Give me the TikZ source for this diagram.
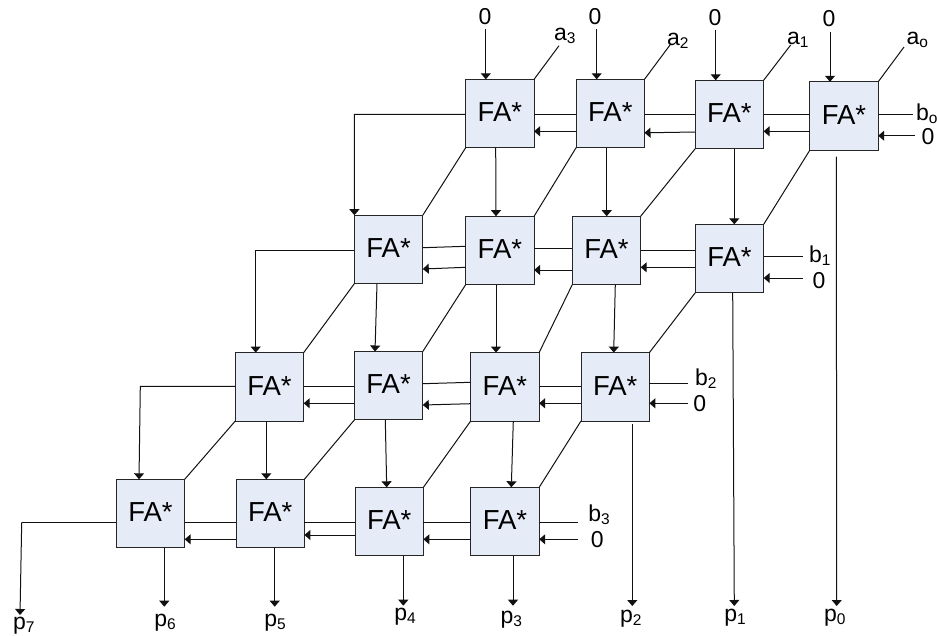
\documentclass[tikz,border=0pt]{standalone}
\usepackage{fontspec}
\setmainfont{Liberation Sans}
\usetikzlibrary{arrows.meta}
\definecolor{boxfill}{HTML}{E6ECF7}
\definecolor{boxline}{HTML}{262626}
\definecolor{wire}{HTML}{111111}
\newcommand{\lab}[2]{{\fontsize{23}{23}\selectfont #1}{\fontsize{15.5}{15.5}\selectfont\raisebox{-3pt}{#2}}}
\tikzset{
  fabox/.style={draw=boxline,fill=boxfill,line width=1pt,minimum size=68.4pt,inner sep=0pt,outer sep=0pt,
    font=\fontsize{27.5}{27.5}\selectfont,text height=20pt,text depth=3.6pt},
  lbl/.style={anchor=base west,inner sep=0pt,outer sep=0pt},
  zero/.style={inner sep=0pt,outer sep=0pt,font=\fontsize{23}{23}\selectfont},
  wireline/.style={draw=wire,line width=1pt},
  arr/.style={wireline,-{Triangle[length=6pt,width=10pt]}},
}
\newcommand{\pairw}[6]{% left box, right box, upper y at left, upper y at right, lower y at left, lower y at right
  \draw[wireline] (#1.east |- 0,#3) -- (#2.west |- 0,#4);
  \draw[arr] (#2.west |- 0,#6) -- (#1.east |- 0,#5);
}
\begin{document}
\begin{tikzpicture}[x=1pt,y=-1pt]
\useasboundingbox (0,0) rectangle (937,635);
% boxes
\node[fabox] (r0c3) at (499.9,113.5) {FA*};
\node[fabox] (r0c2) at (610.3,113.5) {FA*};
\node[fabox] (r0c1) at (729.4,114.5) {FA*};
\node[fabox] (r0c0) at (844,116) {FA*};
\node[fabox] (r1c3) at (388.6,249.4) {FA*};
\node[fabox] (r1c2) at (499.9,250.4) {FA*};
\node[fabox] (r1c1) at (606.5,250.4) {FA*};
\node[fabox] (r1c0) at (729.5,258.5) {FA*};
\node[fabox] (r2c3) at (269.5,386.8) {FA*};
\node[fabox] (r2c2) at (388.6,385.7) {FA*};
\node[fabox] (r2c1) at (504.9,386.8) {FA*};
\node[fabox] (r2c0) at (615.2,386.8) {FA*};
\node[fabox] (r3c3) at (150.5,513.5) {FA*};
\node[fabox] (r3c2) at (270.2,513.5) {FA*};
\node[fabox] (r3c1) at (389.2,521.5) {FA*};
\node[fabox] (r3c0) at (505,521.5) {FA*};
% top labels
\node[zero] (zt3) at (485,17) {0};
\node[zero] (zt2) at (595,17) {0};
\node[zero] (zt1) at (715,18) {0};
\node[zero] (zt0) at (829,19) {0};
\node[lbl] (a3) at (554,40) {\lab{a}{3}};
\node[lbl] (a2) at (667,45) {\lab{a}{2}};
\node[lbl] (a1) at (787,44.5) {\lab{a}{1}};
\node[lbl] (a0) at (906.5,44.5) {\lab{a}{o}};
% right labels
\node[lbl] (b0) at (916,120.5) {\lab{b}{o}};
\node[zero] (zr0) at (928,137) {0};
\node[lbl] (b1) at (809,262.5) {\lab{b}{1}};
\node[zero] (zr1) at (819,281) {0};
\node[lbl] (b2) at (695,385) {\lab{b}{2}};
\node[zero] (zr2) at (699.7,403.7) {0};
\node[lbl] (b3) at (588.3,521) {\lab{b}{3}};
\node[zero] (zr3) at (597.3,540) {0};
% bottom labels
\node[lbl] (p7) at (13,629) {\lab{p}{7}};
\node[lbl] (p6) at (154.3,626) {\lab{p}{6}};
\node[lbl] (p5) at (264.3,626) {\lab{p}{5}};
\node[lbl] (p4) at (394.3,620.5) {\lab{p}{4}};
\node[lbl] (p3) at (500.7,623.6) {\lab{p}{3}};
\node[lbl] (p2) at (620,622) {\lab{p}{2}};
\node[lbl] (p1) at (724.3,621) {\lab{p}{1}};
\node[lbl] (p0) at (824,621) {\lab{p}{0}};
% free ends
\coordinate (tz3) at (485.8,29);
\coordinate (tz2) at (596.7,29);
\coordinate (tz1) at (715.7,30);
\coordinate (tz0) at (830,32);
\coordinate (ea3) at (559,45.7);
\coordinate (ea2) at (670,45);
\coordinate (ea1) at (790.7,45);
\coordinate (ea0) at (904,47);
\coordinate (eb0) at (913,114);
\coordinate (eb1) at (803,256.7);
\coordinate (eb2) at (688.3,383.7);
\coordinate (eb3) at (578.3,522.3);
\coordinate (ez0) at (915,135.7);
\coordinate (ez1) at (803,278);
\coordinate (ez2) at (688.3,403.3);
\coordinate (ez3) at (578.3,539.3);
\coordinate (ep7) at (20,615);
\coordinate (ep6) at (164.3,606.7);
\coordinate (ep5) at (274.7,606.7);
\coordinate (ep4) at (403.3,605.7);
\coordinate (ep3) at (513,605.7);
\coordinate (ep2) at (632.3,606);
\coordinate (ep1) at (734.3,606);
\coordinate (ep0) at (836.7,606);
% top inputs
\draw[arr] (tz3) -- (tz3 |- r0c3.north);
\draw[arr] (tz2) -- (tz2 |- r0c2.north);
\draw[arr] (tz1) -- (tz1 |- r0c1.north);
\draw[arr] (tz0) -- (tz0 |- r0c0.north);
\draw[wireline] (r0c3.north east) -- (ea3);
\draw[wireline] (r0c2.north east) -- (ea2);
\draw[wireline] (r0c1.north east) -- (ea1);
\draw[wireline] (r0c0.north east) -- (ea0);
% diagonals
\foreach \c in {0,1,2,3}{
  \draw[wireline] (r0c\c.south west) -- (r1c\c.north east);
  \draw[wireline] (r1c\c.south west) -- (r2c\c.north east);
  \draw[wireline] (r2c\c.south west) -- (r3c\c.north east);
}
% horizontal pairs
\pairw{r0c3}{r0c2}{114.3}{114.3}{131.3}{131.3}
\pairw{r0c2}{r0c1}{114.3}{114.3}{132.8}{132}
\pairw{r0c1}{r0c0}{114}{114}{131.3}{131.3}
\pairw{r1c3}{r1c2}{247.7}{246.3}{269}{267.3}
\pairw{r1c2}{r1c1}{248.7}{248.7}{270}{270}
\pairw{r1c1}{r1c0}{250.3}{250.3}{267.3}{267.3}
\pairw{r2c3}{r2c2}{386.3}{386.3}{403.3}{403.3}
\pairw{r2c2}{r2c1}{383.7}{382.3}{405}{403.7}
\pairw{r2c1}{r2c0}{386.3}{386.3}{403.3}{403.3}
\pairw{r3c3}{r3c2}{522.3}{522.3}{539.3}{539.3}
\pairw{r3c2}{r3c1}{522.3}{522.3}{535}{535}
\pairw{r3c1}{r3c0}{522.3}{522.3}{539.3}{539.3}
% right inputs
\draw[wireline] (r0c0.east |- eb0) -- (eb0);
\draw[wireline] (r1c0.east |- eb1) -- (eb1);
\draw[wireline] (r2c0.east |- eb2) -- (eb2);
\draw[wireline] (r3c0.east |- eb3) -- (eb3);
\draw[arr] (ez0) -- (r0c0.east |- ez0);
\draw[arr] (ez1) -- (r1c0.east |- ez1);
\draw[arr] (ez2) -- (r2c0.east |- ez2);
\draw[arr] (ez3) -- (r3c0.east |- ez3);
% left-going carries
\draw[arr] (r0c3.west |- 0,114.3) -- (354.3,114.3) -- (r1c3.north west);
\draw[arr] (r1c3.west |- 0,250.3) -- (255.7,250.3) -- (255.7,0 |- r2c3.north);
\draw[arr] (r2c3.west |- 0,386.3) -- (140.3,386.3) -- (139,0 |- r3c3.north);
\draw[wireline] (r3c3.west |- 0,522.3) -- (21.7,522.3);
\draw[arr] (21.7,522.3) -- (ep7);
% verticals
\draw[arr] (495.7,0 |- r0c3.south) -- (496,0 |- r1c2.north);
\draw[arr] (606.7,0 |- r0c2.south) -- (606.7,0 |- r1c1.north);
\draw[arr] (734.3,0 |- r0c1.south) -- (734.3,0 |- r1c0.north);
\draw[arr] (377,0 |- r1c3.south) -- (375,0 |- r2c2.north);
\draw[arr] (496,0 |- r1c2.south) -- (496,0 |- r2c1.north);
\draw[arr] (615.3,0 |- r1c1.south) -- (613.7,0 |- r2c0.north);
\draw[arr] (266.3,0 |- r2c3.south) -- (266.3,0 |- r3c2.north);
\draw[arr] (385.3,0 |- r2c2.south) -- (386.7,0 |- r3c1.north);
\draw[arr] (513.3,0 |- r2c1.south) -- (511.3,0 |- r3c0.north);
% outputs
\draw[arr] (836.3,156.7) -- (ep0);
\draw[arr] (732.7,0 |- r1c0.south) -- (ep1);
\draw[arr] (632.3,424.3) -- (ep2);
\draw[arr] (ep6 |- r3c3.south) -- (ep6);
\draw[arr] (ep5 |- r3c2.south) -- (ep5);
\draw[arr] (ep4 |- r3c1.south) -- (ep4);
\draw[arr] (ep3 |- r3c0.south) -- (ep3);
\end{tikzpicture}
\end{document}
